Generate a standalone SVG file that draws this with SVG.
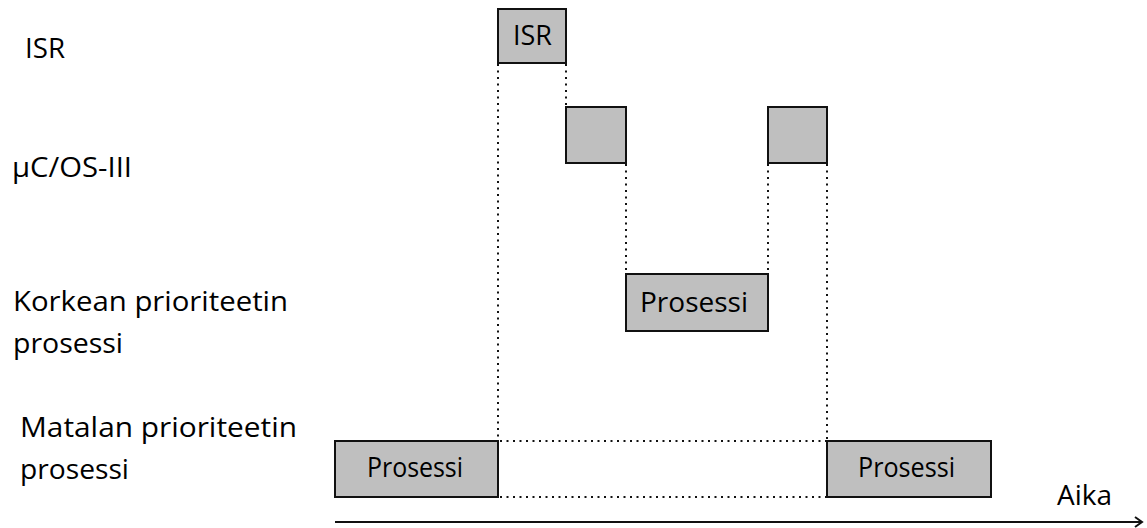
<svg xmlns="http://www.w3.org/2000/svg" width="1147" height="528" viewBox="0 0 1147 528">
<style>
text{font-family:"Open Sans","Noto Sans","Liberation Sans",sans-serif;fill:#000;font-size:28px}
.box{fill:#bfbfbf;stroke:#111;stroke-width:2}
.dot{stroke:#111;stroke-width:2;stroke-dasharray:2 4.5;fill:none}
.axis{stroke:#111;stroke-width:2;fill:none}
</style>
<defs>
<marker id="arr" markerWidth="12" markerHeight="12" refX="10" refY="6" orient="auto" markerUnits="userSpaceOnUse">
<path d="M3,1 L10,6 L3,11" fill="none" stroke="#111" stroke-width="2"/>
</marker>
</defs>
<g id="labels">
<text x="25" y="58" textLength="40" lengthAdjust="spacingAndGlyphs">ISR</text>
<text x="12" y="177" textLength="120" lengthAdjust="spacingAndGlyphs">μC/OS-III</text>
<text x="13" y="311" textLength="275" lengthAdjust="spacingAndGlyphs">Korkean prioriteetin</text>
<text x="13" y="353" textLength="110" lengthAdjust="spacingAndGlyphs">prosessi</text>
<text x="20" y="437" textLength="277" lengthAdjust="spacingAndGlyphs">Matalan prioriteetin</text>
<text x="20" y="479" textLength="109" lengthAdjust="spacingAndGlyphs">prosessi</text>
<text x="1057" y="505" textLength="55" lengthAdjust="spacingAndGlyphs">Aika</text>
</g>
<g id="connectors">
<line class="dot" x1="498" y1="64" x2="498" y2="441"/>
<line class="dot" x1="566" y1="64" x2="566" y2="107"/>
<line class="dot" x1="626" y1="164" x2="626" y2="274"/>
<line class="dot" x1="768" y1="164" x2="768" y2="274"/>
<line class="dot" x1="827" y1="164" x2="827" y2="441"/>
<line class="dot" x1="500" y1="441" x2="827" y2="441"/>
<line class="dot" x1="500" y1="497" x2="827" y2="497"/>
<line class="axis" x1="335" y1="522" x2="1142" y2="522" marker-end="url(#arr)"/>
</g>
<g id="isr">
<rect class="box" x="498" y="9" width="68" height="54"/>
<text x="513" y="45" textLength="39" lengthAdjust="spacingAndGlyphs">ISR</text>
</g>
<g id="os1">
<rect class="box" x="566" y="107" width="60" height="56"/>
</g>
<g id="os2">
<rect class="box" x="768" y="107" width="59" height="56"/>
</g>
<g id="high">
<rect class="box" x="626" y="274" width="142" height="57"/>
<text x="640" y="312" textLength="108" lengthAdjust="spacingAndGlyphs">Prosessi</text>
</g>
<g id="low1">
<rect class="box" x="335" y="441" width="163" height="56"/>
<text x="367" y="477" textLength="96" lengthAdjust="spacingAndGlyphs">Prosessi</text>
</g>
<g id="low2">
<rect class="box" x="827" y="441" width="164" height="56"/>
<text x="858" y="477" textLength="97" lengthAdjust="spacingAndGlyphs">Prosessi</text>
</g>
</svg>
